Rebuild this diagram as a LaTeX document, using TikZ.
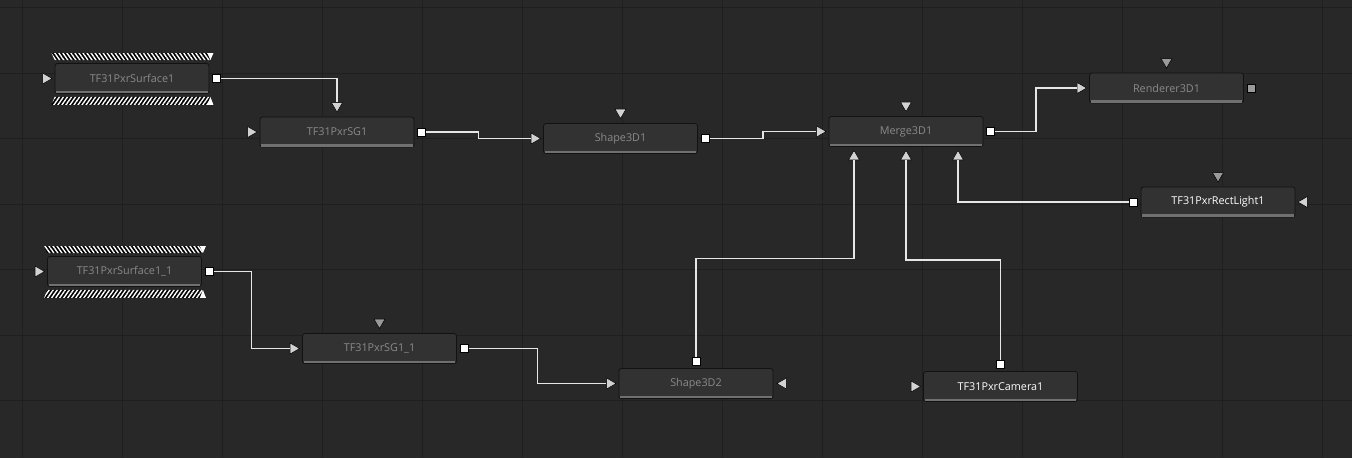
\documentclass[tikz,border=0pt]{standalone}
\usepackage{fontspec}
\setmainfont{Open Sans}
\usetikzlibrary{positioning,shapes.geometric,patterns.meta,calc}

\definecolor{canvas}{HTML}{282828}
\definecolor{gridline}{HTML}{1F1F1F}
\definecolor{nodefill}{HTML}{323232}
\definecolor{nodeedge}{HTML}{121212}
\definecolor{nodebar}{HTML}{707070}
\definecolor{dimtext}{HTML}{8A8A8A}
\definecolor{wirecol}{HTML}{E6E6E6}
\definecolor{portlight}{HTML}{D2D2D2}
\definecolor{portdim}{HTML}{9A9A9A}

\tikzset{
  tool/.style={draw=nodeedge, line width=0.8pt, fill=nodefill, rounded corners=2.5pt,
    minimum width=154pt, minimum height=30pt, inner sep=0pt,
    font=\fontsize{10.8}{12}\selectfont, text=dimtext},
  lit/.style={text=white},
  port/.style={regular polygon, regular polygon sides=3, minimum size=12.5pt,
    inner sep=0pt, draw=black, line width=0.5pt, fill=portlight},
  inR/.style={port, shape border rotate=-90},
  inL/.style={port, shape border rotate=90},
  inD/.style={port, shape border rotate=180},
  inU/.style={port},
  dim/.style={fill=portdim},
  outsq/.style={rectangle, draw=black, line width=0.6pt, fill=white,
    minimum size=8pt, inner sep=0pt},
  wire/.style={draw=wirecol, line width=1.5pt},
  hstep/.style={to path={-| ($(\tikztostart)!.5!(\tikztotarget)$) |- (\tikztotarget)}},
  vstep/.style={to path={|- ($(\tikztostart)!.5!(\tikztotarget)$) -| (\tikztotarget)}},
  hatchtop/.style={preaction={fill=black}, pattern color=white,
    pattern={Lines[angle=-55,distance=3.3pt,line width=1.4pt]}},
  hatchbot/.style={preaction={fill=black}, pattern color=white,
    pattern={Lines[angle=55,distance=3.3pt,line width=1.4pt]}}
}

\begin{document}
\begin{tikzpicture}[x=1pt, y=-1pt]

		% Canvas and grid
		\fill[canvas] (0,0) rectangle (1352,458);
		\useasboundingbox (0,0) rectangle (1352,458);
		\foreach \gx in {22,122,...,1322}
			\draw[gridline, line width=1pt] (\gx,0) -- (\gx,458);
		\foreach \gy in {7.5,73,...,458}
			\draw[gridline, line width=1pt] (0,\gy) -- (1352,\gy);

		% Tools
		\node[tool] (surf1) at (132,78.5) {TF31PxrSurface1};
		\node[tool] (sg1) at (337,132) {TF31PxrSG1};
		\node[tool] (shape1) at (620.5,138.5) {Shape3D1};
		\node[tool] (merge) at (906,131.5) {Merge3D1};
		\node[tool] (render) at (1166.5,88) {Renderer3D1};
		\node[tool, lit] (rect) at (1218,202) {TF31PxrRectLight1};
		\node[tool] (surf2) at (124.5,271.5) {TF31PxrSurface1\_1};
		\node[tool] (sg2) at (379.5,348.5) {TF31PxrSG1\_1};
		\node[tool] (shape2) at (696,383.5) {Shape3D2};
		\node[tool, lit] (cam) at (1000.5,386.5) {TF31PxrCamera1};

		% Bottom bars
		\foreach \n in {surf1,sg1,shape1,merge,render,rect,surf2,sg2,shape2,cam}
			\fill[nodebar] ([shift={(1.5pt,0.8pt)}]\n.south west) rectangle ([shift={(-1.5pt,3pt)}]\n.south east);

		% Hatched strips
		\foreach \n in {surf1,surf2} {
			\path[hatchtop] ([shift={(-3pt,10pt)}]\n.north west) -- ([shift={(4pt,10pt)}]\n.north east)
				-- ([shift={(0pt,3pt)}]\n.north east) -- ([shift={(0pt,3pt)}]\n.north west) -- cycle;
			\fill[white] ([shift={(-2pt,10pt)}]\n.north east) -- ([shift={(4pt,10pt)}]\n.north east)
				-- ([shift={(1pt,3pt)}]\n.north east) -- cycle;
			\path[hatchbot] ([shift={(0pt,-3pt)}]\n.south west) -- ([shift={(0pt,-3pt)}]\n.south east)
				-- ([shift={(4pt,-11pt)}]\n.south east) -- ([shift={(-3pt,-11pt)}]\n.south west) -- cycle;
			\fill[white] ([shift={(-2pt,-11pt)}]\n.south east) -- ([shift={(4pt,-11pt)}]\n.south east)
				-- ([shift={(1pt,-3pt)}]\n.south east) -- cycle;
		}

		% Ports
		\node[inR, left=2pt of surf1] (surf1in) {};
		\node[outsq, right=3pt of surf1] (surf1out) {};
		\node[inR, left=2pt of sg1] (sg1in) {};
		\node[inD, above=4pt of sg1] (sg1top) {};
		\node[outsq, right=3pt of sg1] (sg1out) {};
		\node[inR, left=2pt of shape1] (shape1in) {};
		\node[inD, above=4pt of shape1] (shape1top) {};
		\node[outsq, right=3pt of shape1] (shape1out) {};
		\node[inR, left=2pt of merge] (mergein) {};
		\node[inD, above=4pt of merge] (mergetop) {};
		\node[inU, below=3pt of merge.south, xshift=-52pt] (mergeb1) {};
		\node[inU, below=3pt of merge.south] (mergeb2) {};
		\node[inU, below=3pt of merge.south, xshift=52pt] (mergeb3) {};
		\node[outsq, right=3pt of merge] (mergeout) {};
		\node[inR, left=2pt of render] (renderin) {};
		\node[inD, dim, above=4pt of render] (rendertop) {};
		\node[outsq, fill=portdim, right=3pt of render] (renderout) {};
		\node[inL, right=2pt of rect] (rectin) {};
		\node[inD, dim, above=4pt of rect] (recttop) {};
		\node[outsq, left=3pt of rect] (rectout) {};
		\node[inR, left=2pt of surf2] (surf2in) {};
		\node[outsq, right=3pt of surf2] (surf2out) {};
		\node[inR, left=2pt of sg2] (sg2in) {};
		\node[inD, dim, above=4pt of sg2] (sg2top) {};
		\node[outsq, right=3pt of sg2] (sg2out) {};
		\node[inR, left=2pt of shape2] (shape2in) {};
		\node[inL, right=3pt of shape2] (shape2side) {};
		\node[outsq, above=3pt of shape2] (shape2out) {};
		\node[inR, left=2pt of cam] (camin) {};
		\node[outsq, above=3pt of cam] (camout) {};

		% Wires
		\draw[wire] (surf1out.east) -| (sg1top.north);
		\draw[wire] (sg1out.east) to[hstep] (shape1in.west);
		\draw[wire] (shape1out.east) to[hstep] (mergein.west);
		\draw[wire] (mergeout.east) to[hstep] (renderin.west);
		\draw[wire] (rectout.west) -| (mergeb3.south);
		\draw[wire] (shape2out.north) to[vstep] (mergeb1.south);
		\draw[wire] (camout.north) to[vstep] (mergeb2.south);
		\draw[wire] (surf2out.east) to[hstep] (sg2in.west);
		\draw[wire] (sg2out.east) to[hstep] (shape2in.west);

	\end{tikzpicture}
\end{document}
